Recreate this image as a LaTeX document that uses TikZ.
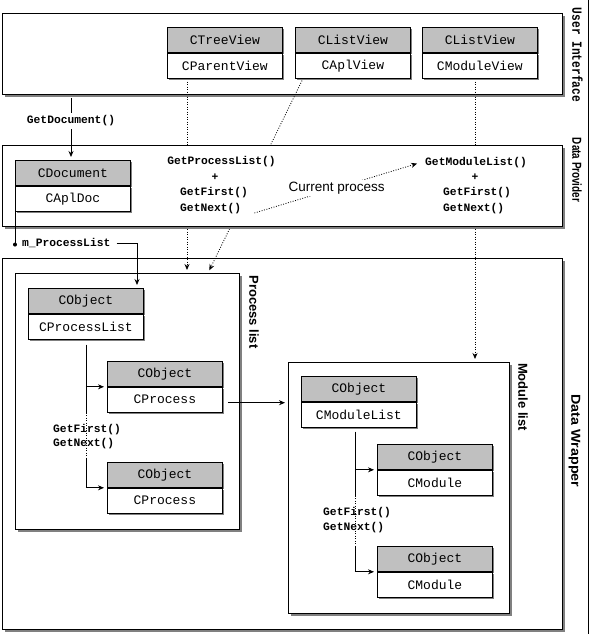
\documentclass[tikz,border=0pt]{standalone}
\usepackage{fontspec}
\usetikzlibrary{arrows.meta,shadows,calc}
\newfontfamily\clsfont{Liberation Mono}
\newfontfamily\sidefont{Liberation Sans}
\definecolor{hdrgray}{HTML}{C0C0C0}
\definecolor{shgray}{HTML}{808080}
\newcommand\clsbox[4]{%
  \node[hdr] (#1-h) at (#2) {#3};
  \node[bdy] (#1-b) at (#1-h.south west) {#4};
}
\begin{document}
\begin{tikzpicture}[x=1pt,y=-1pt,
  layer/.style={draw,fill=white,line width=0.9pt,anchor=north west,inner sep=0,
    drop shadow={shadow xshift=3pt,shadow yshift=-3pt,fill=shgray,opacity=1}},
  clsshadow/.style={drop shadow={shadow xshift=2pt,shadow yshift=-2pt,fill=shgray,opacity=1}},
  hdr/.style={draw,fill=hdrgray,line width=0.8pt,anchor=north west,inner sep=0,
    minimum width=115,minimum height=25,font=\clsfont\fontsize{13}{13}\selectfont,clsshadow},
  bdy/.style={hdr,fill=white},
  meth/.style={inner sep=0,font=\clsfont\bfseries\fontsize{11.3}{12}\selectfont},
  side/.style={inner sep=0,rotate=-90,text height=9.5pt,text depth=0pt,
    font=\sidefont\bfseries\fontsize{13}{13}\selectfont},
  arr/.style={-{Stealth[length=6pt,width=5pt]},shorten >=3pt},
  dotline/.style={dash pattern=on 0.9pt off 1.6pt,line width=0.8pt},
  solid line/.style={line width=0.8pt}
]
\useasboundingbox (0,0) rectangle (589,634);
\draw[line width=0.8pt] (588,0) -- (588,634);

% layer boxes (UI, Data Wrapper)
\node[layer,minimum width=560,minimum height=81] (ui) at (2,13) {};
\node[layer,minimum width=560,minimum height=371] (dw) at (2,258) {};
\node[layer,minimum width=224,minimum height=256] (plbox) at (15,273) {};
\node[layer,minimum width=221,minimum height=251] (mlbox) at (288,362) {};

% side labels
\node[side] (lui) at (577,55) {\scalebox{0.8}[1]{\clsfont\bfseries\fontsize{14}{14}\selectfont User Interface}};
\node[side] (ldp) at (577,170) {\scalebox{0.76}[1]{Data Provider}};
\node[side] (ldw) at (576,441) {\scalebox{1.1}[1]{Data Wrapper}};
\node[side] (lpl) at (254,312) {Process list};
\node[side] (lml) at (523,397) {Module list};

% UI classes
\clsbox{tv}{167,27}{CTreeView}{CParentView}
\clsbox{av}{295,27}{CListView}{CAplView}
\clsbox{mv}{422,27}{CListView}{CModuleView}

% process list
\clsbox{pl}{28,288}{CObject}{CProcessList}
\clsbox{p1}{107,361}{CObject}{CProcess}
\clsbox{p2}{107,462}{CObject}{CProcess}
\coordinate (ps0) at ([yshift=-5pt]pl-b.south);
\coordinate (ps1) at (ps0 |- p1-b.south);
\coordinate (ps2) at ([yshift=3pt]ps0 |- p2-h.north);
\draw[solid line] (ps0) -- (ps1);
\draw[dotline] (ps1) -- (ps2);
\draw[solid line] (ps2) -- (ps0 |- p2-h.south);
\draw[solid line,arr] (ps0 |- p1-h.south) -- (p1-h.south west);
\draw[solid line,arr] (ps0 |- p2-h.south) -- (p2-h.south west);
\node[meth,anchor=west] (pgf) at (53,430) {GetFirst()};
\node[meth,anchor=west] (pgn) at (53,444) {GetNext()};

% module list
\clsbox{ml}{301,376}{CObject}{CModuleList}
\clsbox{m1}{377,444}{CObject}{CModule}
\clsbox{m2}{377,546}{CObject}{CModule}
\coordinate (ms0) at ([xshift=-4pt,yshift=-4pt]ml-b.south);
\coordinate (ms1) at (ms0 |- m1-b.south);
\coordinate (ms2) at ([yshift=-1pt]ms0 |- m2-h.north);
\draw[solid line] (ms0) -- (ms1);
\draw[dotline] (ms1) -- (ms2);
\draw[solid line] (ms2) -- (ms0 |- m2-h.south);
\draw[solid line,arr] (ms0 |- m1-h.south) -- (m1-h.south west);
\draw[solid line,arr] (ms0 |- m2-h.south) -- (m2-h.south west);
\node[meth,anchor=west] (mgf) at (323,513) {GetFirst()};
\node[meth,anchor=west] (mgn) at (323,528) {GetNext()};

% process -> module list
\coordinate (pa) at ([xshift=5pt,yshift=-3pt]p1-b.east);
\draw[solid line,arr] (pa) -- (pa -| mlbox.west);

% view links
\coordinate (tvs) at ([xshift=20pt,yshift=-3pt]tv-b.south west);
\draw[dotline,arr] (tvs) -- (tvs |- plbox.north);
\coordinate (avs) at ([xshift=7pt,yshift=-2pt]av-b.south west);
\coordinate (ave) at ([xshift=193pt]plbox.north west);
\draw[dotline,arr] (avs) -- (ave);
\coordinate (mvs) at ([xshift=53pt,yshift=-3pt]mv-b.south west);
\draw[dotline,arr] (mvs) -- (mvs |- mlbox.north);

% data provider
\node[layer,minimum width=560,minimum height=81] (dp) at (2,145) {};
\clsbox{doc}{15,160}{CDocument}{CAplDoc}
\node[meth] (gpl) at (221.5,162) {GetProcessList()};
\node[meth] (pplus) at (215,177) {+};
\node[meth,anchor=west] (gf1) at (180,193) {GetFirst()};
\node[meth,anchor=west] (gn1) at (180,209) {GetNext()};
\node[meth,anchor=west] (gml) at (425,163) {GetModuleList()};
\node[meth] (mplus) at (475,177) {+};
\node[meth,anchor=west] (gf2) at (443,193) {GetFirst()};
\node[meth,anchor=west] (gn2) at (443,209) {GetNext()};
\draw[dotline,arr,shorten >=2pt] ([xshift=13pt,yshift=-4pt]gn1.east) -- node[fill=white,inner sep=2pt,font=\sidefont\fontsize{13.5}{14}\selectfont] (cur) {Current process} ([xshift=-6pt]gml.west);

% GetDocument
\coordinate (gds) at ([xshift=69pt,yshift=-3pt]ui.south west);
\draw[solid line,arr] (gds) -- node[meth,fill=white,inner sep=3pt,pos=0.37] (gdl) {GetDocument()} (gds |- doc-h.north);

% m_ProcessList
\coordinate (mpd) at ([yshift=-33pt]doc-b.south west);
\draw[solid line] (doc-b.south west) -- (mpd);
\fill (mpd) circle (2);
\node[meth,anchor=west] (mpl) at (22,243) {m\_ProcessList};
\coordinate (mpe) at ([xshift=109pt]pl-h.north west);
\draw[solid line,arr] ([xshift=6pt]mpl.east) -| (mpe);
\end{tikzpicture}
\end{document}
